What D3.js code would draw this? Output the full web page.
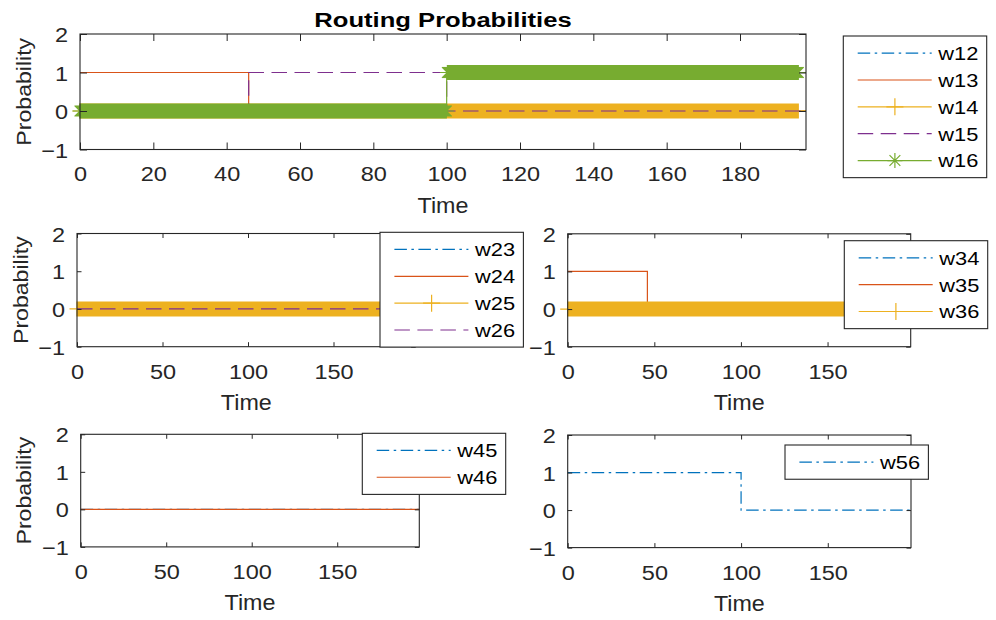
<!DOCTYPE html>
<html>
<head>
<meta charset="utf-8">
<script src="https://cdn.jsdelivr.net/npm/d3@7"></script>
<style>
  html, body { margin: 0; padding: 0; background: #fff; }
  svg { display: block; font-family: "Liberation Sans", Arial, Helvetica, sans-serif; }
</style>
</head>
<body>
<svg id="fig" width="996" height="620"></svg>
<script>
// ---- Data: routing probabilities w_ij over time, stored as [time, probability] steps ----
const timeDomain = [0, 198];
const probDomain = [-1, 2];
const probTicks = [-1, 0, 1, 2];
const topTimeTicks = [0, 20, 40, 60, 80, 100, 120, 140, 160, 180];
const subTimeTicks = [0, 50, 100, 150];
// simulation instants at which marker symbols are plotted
const markerTimes = d3.range(0, 196.01, 0.3);

const w12 = [[0, 0], [198, 0]];
const w13 = [[0, 1], [46, 0], [198, 0]];
const w14 = [[0, 0], [198, 0]];
const w15 = [[0, 0], [46, 1], [100, 0], [198, 0]];
const w16 = [[0, 0], [100, 1], [198, 1]];

const w23 = [[0, 0], [198, 0]];
const w24 = [[0, 0], [198, 0]];
const w25 = [[0, 0], [198, 0]];
const w26 = [[0, 0], [198, 0]];

const w34 = [[0, 0], [198, 0]];
const w35 = [[0, 1], [46, 0], [198, 0]];
const w36 = [[0, 0], [198, 0]];

const w45 = [[0, 0], [198, 0]];
const w46 = [[0, 0], [198, 0]];

const w56 = [[0, 1], [100, 0], [198, 0]];

// ---- Styles: series k in each panel uses the k-th colour / line spec ----
const colors  = ["#0072BD", "#D95319", "#EDB120", "#7E2F8E", "#77AC30"];
const dashes  = ["12.5,4.5,2.5,4.5", null, null, "15.5,7.5", null];
const markers = [null, null, "plus", null, "star"];
const ink = "#262626";

// ---- Panels ----
const panels = [
  { names: ["w12", "w13", "w14", "w15", "w16"], series: [w12, w13, w14, w15, w16],
    left: 80, right: 806, top: 34, bottom: 149.5, ticks: topTimeTicks, tick: 7,
    ylabel: true, legend: { x: 843.3, y: 36 } },
  { names: ["w23", "w24", "w25", "w26"], series: [w23, w24, w25, w26],
    left: 77, right: 415.6, top: 233.5, bottom: 346.7, ticks: subTimeTicks, tick: 4.5,
    ylabel: true, legend: { x: 380, y: 232.3 } },
  { names: ["w34", "w35", "w36"], series: [w34, w35, w36],
    left: 567.7, right: 910.7, top: 233.8, bottom: 346.7, ticks: subTimeTicks, tick: 4.5,
    ylabel: false, legend: { x: 844.3, y: 240.7 } },
  { names: ["w45", "w46"], series: [w45, w46],
    left: 80.7, right: 419.3, top: 434.3, bottom: 546.9, ticks: subTimeTicks, tick: 4.5,
    ylabel: true, legend: { x: 362.3, y: 433.3 } },
  { names: ["w56"], series: [w56],
    left: 567.7, right: 911, top: 435, bottom: 547.6, ticks: subTimeTicks, tick: 4.5,
    ylabel: false, legend: { x: 785, y: 445 } }
];

const svg = d3.select("#fig");

function stepValue(steps, t) {
  let v = steps[0][1];
  for (const [tt, vv] of steps) if (tt <= t) v = vv;
  return v;
}

function markerPath(type, cx, cy, r) {
  let d = `M${cx - r},${cy}H${cx + r}M${cx},${cy - r}V${cy + r}`;
  if (type === "star") {
    const k = r * 0.72;
    d += `M${cx - k},${cy - k}L${cx + k},${cy + k}M${cx - k},${cy + k}L${cx + k},${cy - k}`;
  }
  return d;
}

function drawPanel(p) {
  const x = d3.scaleLinear().domain(timeDomain).range([p.left, p.right]);
  const y = d3.scaleLinear().domain(probDomain).range([p.bottom, p.top]);
  const g = svg.append("g");

  // series lines and markers
  const line = d3.line().x(d => x(d[0])).y(d => y(d[1])).curve(d3.curveStepAfter);
  p.series.forEach((s, k) => {
    g.append("path")
      .attr("d", line(s))
      .attr("fill", "none")
      .attr("stroke", colors[k])
      .attr("stroke-width", 1.2)
      .attr("stroke-dasharray", dashes[k]);
    if (markers[k]) {
      const r = 7.5;
      const d = markerTimes.map(t => markerPath(markers[k], x(t), y(stepValue(s, t)), r)).join("");
      g.append("path")
        .attr("d", d)
        .attr("fill", "none")
        .attr("stroke", colors[k])
        .attr("stroke-width", 1.2);
    }
  });

  // axes with inward ticks on all four sides
  const styleAxis = sel => {
    sel.select(".domain").remove();
    sel.selectAll(".tick line").attr("stroke", ink).attr("stroke-width", 1);
    sel.selectAll(".tick text").attr("fill", ink).attr("font-size", 21)
      .attr("transform", "scale(1.12,1)");
  };
  g.append("g").attr("transform", `translate(0,${p.bottom})`)
    .call(d3.axisBottom(x).tickValues(p.ticks).tickSize(-p.tick).tickPadding(17).tickFormat(d3.format("d")))
    .call(styleAxis);
  g.append("g").attr("transform", `translate(0,${p.top})`)
    .call(d3.axisTop(x).tickValues(p.ticks).tickSize(-p.tick).tickFormat(""))
    .call(styleAxis);
  g.append("g").attr("transform", `translate(${p.left},0)`)
    .call(d3.axisLeft(y).tickValues(probTicks).tickSize(-p.tick).tickPadding(10.7).tickFormat(d3.format("d")))
    .call(styleAxis)
    .call(a => a.selectAll(".tick text").attr("dy", "0.36em"));
  g.append("g").attr("transform", `translate(${p.right},0)`)
    .call(d3.axisRight(y).tickValues(probTicks).tickSize(-p.tick).tickFormat(""))
    .call(styleAxis);

  g.append("rect")
    .attr("x", p.left).attr("y", p.top)
    .attr("width", p.right - p.left).attr("height", p.bottom - p.top)
    .attr("fill", "none").attr("stroke", ink).attr("stroke-width", 1.1);

  // axis labels
  g.append("text")
    .attr("transform", `translate(${(p.left + p.right) / 2},${p.bottom + 63}) scale(1.06,1)`)
    .attr("text-anchor", "middle").attr("font-size", 22).attr("fill", ink)
    .text("Time");
  if (p.ylabel) {
    g.append("text")
      .attr("transform", `translate(${p.left - 49.5},${(p.top + p.bottom) / 2}) rotate(-90) scale(1.1,1)`)
      .attr("text-anchor", "middle").attr("font-size", 21).attr("fill", ink)
      .text("Probability");
  }
}

function drawLegend(p) {
  const n = p.names.length;
  const rowH = 26.85;
  const lg = svg.append("g").attr("transform", `translate(${p.legend.x},${p.legend.y})`);
  lg.append("rect")
    .attr("width", 143.4).attr("height", rowH * n + 7.4)
    .attr("fill", "#fff").attr("stroke", ink).attr("stroke-width", 1.1);
  p.names.forEach((name, k) => {
    const cy = 3.7 + rowH * (k + 0.5);
    lg.append("line")
      .attr("x1", 14.4).attr("x2", 88.4).attr("y1", cy).attr("y2", cy)
      .attr("stroke", colors[k]).attr("stroke-width", 1.2)
      .attr("stroke-dasharray", dashes[k]);
    if (markers[k]) {
      lg.append("path")
        .attr("d", markerPath(markers[k], 51.6, cy, markers[k] === "plus" ? 8.5 : 7.5))
        .attr("fill", "none").attr("stroke", colors[k]).attr("stroke-width", 1.2);
    }
    lg.append("text")
      .attr("transform", `translate(95,${cy}) scale(1.15,1)`)
      .attr("dy", "0.36em").attr("font-size", 19).attr("fill", "#000")
      .text(name);
  });
}

panels.forEach(drawPanel);
panels.forEach(drawLegend);

// figure title over the first panel
svg.append("text")
  .attr("transform", `translate(${(panels[0].left + panels[0].right) / 2},26.7) scale(1.22,1)`)
  .attr("text-anchor", "middle").attr("font-size", 21).attr("font-weight", "bold").attr("fill", "#000")
  .text("Routing Probabilities");
</script>
</body>
</html>
